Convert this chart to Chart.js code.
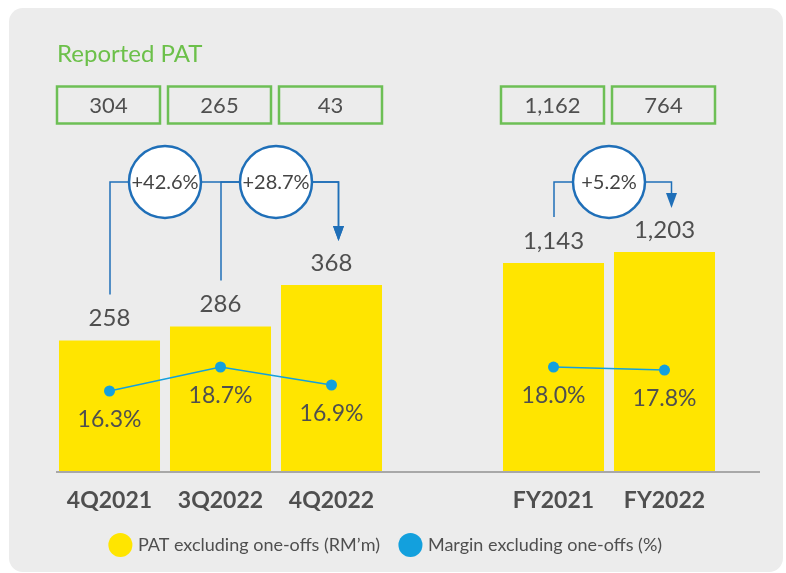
<!DOCTYPE html>
<html>
<head>
<meta charset="utf-8">
<script src="https://cdn.jsdelivr.net/npm/chart.js@4.4.0/dist/chart.umd.min.js"></script>
<style>
  body { margin: 0; background: #fff; }
  #panel { position: absolute; left: 9px; top: 8px; width: 774px; height: 564px; background: #ececec; border-radius: 14px; }
  #myChart { position: absolute; left: 0; top: 0; }
</style>
</head>
<body>
<div id="panel"></div>
<canvas id="myChart" width="786" height="573"></canvas>
<script>
var labels = ['4Q2021', '3Q2022', '4Q2022', '', 'FY2021', 'FY2022'];
var patQuarter = [258, 286, 368, null, null, null];
var patYear = [null, null, null, null, 1143, 1203];
var marginQuarter = [16.3, 18.7, 16.9, null, null, null];
var marginYear = [null, null, null, null, 18.0, 17.8];
var reportedPat = [304, 265, 43, null, 1162, 764];
var growthFrom = [0, 1, 4];
var growthTo = [2, 2, 5];
var growthText = ['+42.6%', '+28.7%', '+5.2%'];

Chart.defaults.font.family = 'Lato';

var grey = '#4f4f4f';
var blue = '#1f6fb8';

function fmt(v) { return v.toLocaleString('en-US'); }

//bar top for a category, whichever bar set holds it
function barY(chart, i) {
    var d = patQuarter[i] != null ? 0 : 1;
    return chart.getDatasetMeta(d).data[i].y;
}

const extras = {
    id: 'extras',
    afterDatasetsDraw(chart) {
        const c = chart.ctx;
        const x = chart.scales.x;
        const area = chart.chartArea;
        c.save();

        // baseline
        c.strokeStyle = '#a8a8a8';
        c.lineWidth = 2;
        c.beginPath();
        c.moveTo(area.left + 2, area.bottom + 1);
        c.lineTo(area.right + 40, area.bottom + 1);
        c.stroke();

        // title
        c.fillStyle = '#6cc04a';
        c.font = '24px Lato';
        c.textAlign = 'left';
        c.textBaseline = 'alphabetic';
        c.fillText('Reported PAT', 57, 62);

        // reported PAT boxes
        c.textAlign = 'center';
        c.textBaseline = 'middle';
        for (let i = 0; i < reportedPat.length; i++) {
            if (reportedPat[i] == null) continue;
            let cx = x.getPixelForValue(i) - 1;
            c.strokeStyle = '#6dbf55';
            c.lineWidth = 2.5;
            c.strokeRect(cx - 51.5, 86.5, 103, 37);
            c.fillStyle = grey;
            c.font = '22px Lato';
            c.fillText(fmt(reportedPat[i]), cx, 106);
        }

        // bar values
        c.font = '24px Lato';
        c.fillStyle = grey;
        [[0, patQuarter], [1, patYear]].forEach(function (p) {
            chart.getDatasetMeta(p[0]).data.forEach(function (el, i) {
                if (p[1][i] == null) return;
                c.fillText(fmt(p[1][i]), el.x, el.y - 22);
            });
        });

        // margin values
        c.font = '23px Lato';
        [[2, marginQuarter], [3, marginYear]].forEach(function (p) {
            chart.getDatasetMeta(p[0]).data.forEach(function (el, i) {
                if (p[1][i] == null) return;
                c.fillText(p[1][i].toFixed(1) + '%', el.x, el.y + 29);
            });
        });

        // growth arrows
        var lineY = 182;
        c.strokeStyle = blue;
        c.fillStyle = blue;
        c.lineWidth = 1.5;
        for (let k = 0; k < growthFrom.length; k++) {
            let xf = x.getPixelForValue(growthFrom[k]) + 0.5;
            let xt = x.getPixelForValue(growthTo[k]) + 7;
            let yf = barY(chart, growthFrom[k]) - 46;
            let tip = barY(chart, growthTo[k]) - 44;
            c.beginPath();
            c.moveTo(xf, yf);
            c.lineTo(xf, lineY);
            c.lineTo(xt, lineY);
            c.lineTo(xt, tip - 12);
            c.stroke();
            c.beginPath();
            c.moveTo(xt - 5.5, tip - 15);
            c.lineTo(xt + 5.5, tip - 15);
            c.lineTo(xt, tip);
            c.closePath();
            c.fill();
        }
        for (let k = 0; k < growthFrom.length; k++) {
            let cx = (x.getPixelForValue(growthFrom[k]) + x.getPixelForValue(growthFrom[k] + 1)) / 2;
            c.beginPath();
            c.arc(cx, lineY, 36, 0, Math.PI * 2);
            c.fillStyle = '#fff';
            c.fill();
            c.lineWidth = 2.5;
            c.strokeStyle = blue;
            c.stroke();
            c.fillStyle = '#444';
            c.font = '20px Lato';
            c.fillText(growthText[k], cx, lineY + 1);
        }
        c.restore();
    }
};

const ctx = document.getElementById('myChart').getContext('2d');
const myChart = new Chart(ctx, {
    type: 'bar',
    data: {
        labels: labels,
        datasets: [{
            label: 'PAT excluding one-offs (RM’m)',
            data: patQuarter,
            yAxisID: 'yQ',
            backgroundColor: '#ffe500',
            borderWidth: 0,
            order: 2
        },
        {
            label: 'PAT excluding one-offs (RM’m)',
            data: patYear,
            yAxisID: 'yF',
            backgroundColor: '#ffe500',
            borderWidth: 0,
            order: 2
        },
        {
            label: 'Margin excluding one-offs (%)',
            type: 'line',
            data: marginQuarter,
            yAxisID: 'mQ',
            borderColor: '#13a0dd',
            backgroundColor: '#13a0dd',
            borderWidth: 1.5,
            pointRadius: 5.5,
            pointBorderWidth: 0,
            order: 1
        },
        {
            label: 'Margin excluding one-offs (%)',
            type: 'line',
            data: marginYear,
            yAxisID: 'mF',
            borderColor: '#13a0dd',
            backgroundColor: '#13a0dd',
            borderWidth: 1.5,
            pointRadius: 5.5,
            pointBorderWidth: 0,
            order: 1
        }]
    },
    options: {
        responsive: false,
        animation: false,
        events: [],
        datasets: {
            bar: { grouped: false, categoryPercentage: 1, barPercentage: 0.91 }
        },
        layout: { padding: { top: 140, left: 54, right: 66, bottom: 9 } },
        scales: {
            x: {
                grid: { display: false },
                border: { display: false },
                ticks: { color: grey, padding: 8, font: { size: 23, weight: 'bold' } },
                afterFit: function (s) { s.height = 43; }
            },
            yQ: { display: false, min: 0, max: 655 },
            yF: { display: false, min: 0, max: 1819 },
            mQ: { display: false, min: 8.3, max: 41.4 },
            mF: { display: false, min: 11.07, max: 33.13 }
        },
        plugins: {
            tooltip: { enabled: false },
            legend: {
                position: 'bottom',
                labels: {
                    usePointStyle: true,
                    pointStyle: 'circle',
                    boxWidth: 17,
                    boxHeight: 17,
                    color: grey,
                    padding: 22,
                    font: { size: 18 },
                    filter: function (item) { return item.datasetIndex === 0 || item.datasetIndex === 2; },
                    sort: function (a, b) { return a.datasetIndex - b.datasetIndex; }
                }
            }
        }
    },
    plugins: [extras]
});
</script>
</body>
</html>
